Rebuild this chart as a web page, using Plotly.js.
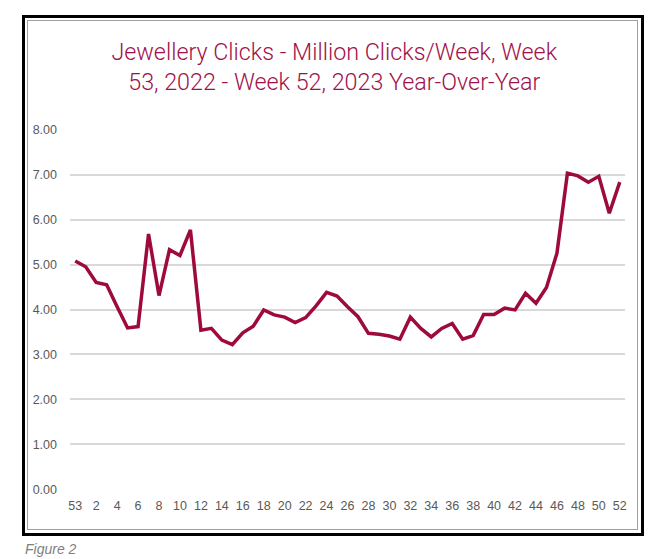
<!DOCTYPE html>
<html>
<head>
<meta charset="utf-8">
<script src="https://cdn.plot.ly/plotly-3.0.1.min.js"></script>
<style>
  html, body { margin:0; padding:0; background:#ffffff; width:658px; height:559px; overflow:hidden; }
  #outer { position:absolute; left:22px; top:15px; width:616px; height:515px; border:3px solid #000; }
  #inner { position:absolute; left:27px; top:20px; width:611px; height:510px; border:1px solid #a0a0a0; box-sizing:border-box; }
  #chart { position:absolute; left:0; top:0; width:658px; height:559px; }
  #fig { position:absolute; left:25px; top:541px; font-family:"Liberation Sans", Arial, sans-serif; font-style:italic; font-size:14px; color:#7f7f7f; }
</style>
</head>
<body>
<div id="outer"></div>
<div id="inner"></div>
<div id="chart"></div>
<div id="fig">Figure 2</div>
<script>
const weeks = ["53","1","2","3","4","5","6","7","8","9","10","11","12","13","14","15","16","17","18","19","20",
  "21","22","23","24","25","26","27","28","29","30","31","32","33","34","35","36","37","38","39","40",
  "41","42","43","44","45","46","47","48","49","50","51","52"];
const clicks = [5.08,4.95,4.60,4.55,4.06,3.59,3.62,5.68,4.31,5.33,5.20,5.77,3.54,3.58,3.32,3.22,3.48,3.63,3.99,3.88,3.83,
  3.71,3.82,4.08,4.38,4.30,4.06,3.84,3.47,3.45,3.41,3.34,3.83,3.58,3.39,3.58,3.69,3.34,3.42,3.89,3.89,
  4.03,3.99,4.36,4.14,4.49,5.25,7.03,6.97,6.83,6.96,6.14,6.83];
const tickWeeks = ["53","2","4","6","8","10","12","14","16","18","20","22","24","26","28","30","32","34","36","38","40","42","44","46","48","50","52"];
const yTicks = [0,1,2,3,4,5,6,7,8];
const yTickText = ["0.00","1.00","2.00","3.00","4.00","5.00","6.00","7.00","8.00"];

const trace = {
  x: weeks, y: clicks, type:"scatter", mode:"lines",
  line:{color:"#9e0a3e", width:3.5}, hoverinfo:"skip"
};
const layout = {
  width:658, height:559,
  paper_bgcolor:"rgba(0,0,0,0)", plot_bgcolor:"rgba(0,0,0,0)",
  margin:{l:70, r:33, t:129, b:69},
  showlegend:false,
  title:{
    text:"Jewellery Clicks - Million Clicks/Week, Week<br>53, 2022 - Week 52, 2023 Year-Over-Year",
    x:0.508, xref:"container", xanchor:"center", y:0.893, yanchor:"middle",
    font:{family:"Roboto, Liberation Sans, Arial, sans-serif", size:23.3, weight:300, color:"#a0114a"}
  },
  xaxis:{
    type:"category", categoryorder:"array", categoryarray:weeks,
    range:[-0.5, weeks.length-0.5],
    tickmode:"array", tickvals:tickWeeks, ticktext:tickWeeks,
    showgrid:false, showline:false, zeroline:false, ticks:"",
    ticklabelstandoff:6,
    tickfont:{family:"Liberation Sans, Arial, sans-serif", size:12.5, color:"#595959"},
    tickangle:0, fixedrange:true
  },
  yaxis:{
    range:[-0.012, 8.012], tickmode:"array", tickvals:yTicks, ticktext:yTickText,
    showgrid:true, gridcolor:"#d9d9d9", gridwidth:2, zeroline:false, showline:false, ticks:"",
    ticklabelstandoff:12,
    tickfont:{family:"Liberation Sans, Arial, sans-serif", size:12.5, color:"#595959"},
    fixedrange:true
  }
};
Plotly.newPlot("chart", [trace], layout, {displayModeBar:false, staticPlot:true});
</script>
</body>
</html>
